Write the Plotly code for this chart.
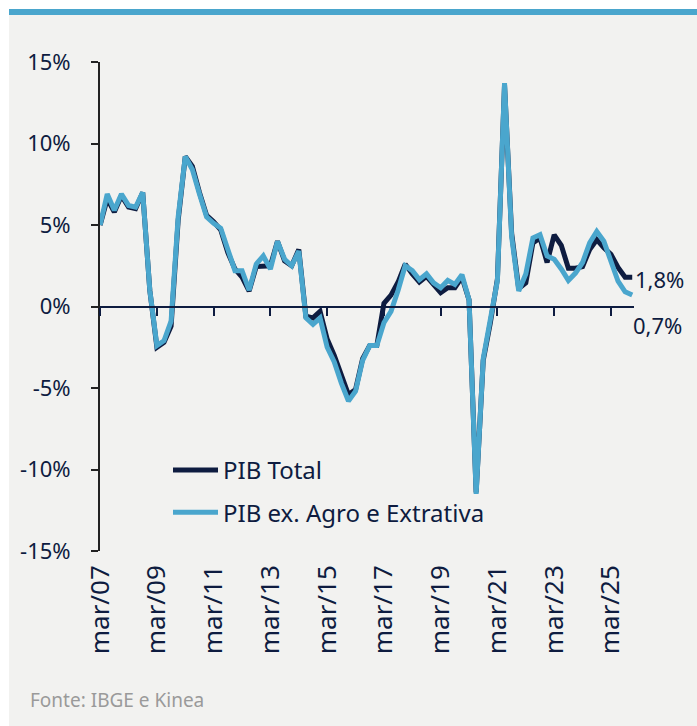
import plotly.graph_objects as go

# ---------------- data ----------------
months = ["mar", "jun", "set", "dez"]
quarters = [f"{m}/{y % 100:02d}" for y in range(2007, 2026) for m in months]

pib_total = [5.0, 6.6, 5.8, 6.8, 6.1, 6.0, 7.0, 1.0, -2.5, -2.2, -1.2, 5.3,
             9.2, 8.6, 7.0, 5.6, 5.2, 4.7, 3.3, 2.3, 1.8, 0.95, 2.45, 2.5,
             2.5, 4.0, 2.8, 2.5, 3.5, -0.6, -0.7, -0.3, -2.0, -3.0, -4.3, -5.4,
             -5.1, -3.2, -2.4, -2.4, 0.2, 0.7, 1.5, 2.6, 2.0, 1.5, 1.85, 1.3,
             0.85, 1.15, 1.15, 1.8, 0.4, -11.4, -3.3, -1.0, 1.7, 13.6, 4.5, 1.1,
             1.45, 3.9, 4.2, 2.7, 4.4, 3.75, 2.35, 2.35, 2.45, 3.5, 4.1, 3.6,
             3.2, 2.4, 1.8, 1.8]

pib_ex_agro = [5.0, 6.9, 5.9, 6.9, 6.2, 6.1, 7.0, 1.0, -2.4, -2.1, -0.9, 5.5,
               9.2, 8.4, 6.9, 5.5, 5.1, 4.8, 3.5, 2.2, 2.2, 1.0, 2.6, 3.1,
               2.3, 4.0, 2.9, 2.5, 3.4, -0.7, -1.1, -0.7, -2.5, -3.4, -4.7, -5.8,
               -5.2, -3.3, -2.4, -2.4, -1.0, -0.3, 1.0, 2.5, 2.2, 1.65, 2.0, 1.45,
               1.15, 1.6, 1.35, 1.95, 0.4, -11.5, -3.2, -0.9, 1.6, 13.7, 4.3, 0.95,
               2.0, 4.2, 4.4, 3.1, 2.9, 2.3, 1.6, 2.05, 2.7, 3.9, 4.6, 4.0,
               2.8, 1.55, 0.9, 0.7]

x_ticks = ["mar/07", "mar/09", "mar/11", "mar/13", "mar/15",
           "mar/17", "mar/19", "mar/21", "mar/23", "mar/25"]
y_ticks = [15, 10, 5, 0, -5, -10, -15]
y_tick_text = ["15%", "10%", "5%", "0%", "-5%", "-10%", "-15%"]

series_names = ["PIB Total", "PIB ex. Agro e Extrativa"]
end_labels = ["1,8%", "0,7%"]
source_text = "Fonte: IBGE e Kinea"

# ---------------- style ----------------
NAVY = "#0e1c40"
LIGHT = "#4aa6cd"
PANEL = "#f2f2f0"
FONT = "Noto Sans"

W, H = 697, 726
L, R, T, B = 100, 63, 62, 175
pw, ph = W - L - R, H - T - B


def px_x(p):
    return (p - L) / pw


def px_y(p):
    return (H - B - p) / ph


fig = go.Figure()

fig.add_trace(go.Scatter(
    x=quarters, y=pib_total, mode="lines", name=series_names[0],
    line=dict(color=NAVY, width=5), legendgroup="a"))
fig.add_trace(go.Scatter(
    x=quarters, y=pib_ex_agro, mode="lines", name=series_names[1],
    line=dict(color=LIGHT, width=5), legendgroup="b"))
# invisible trace to carry the zero-line axis
fig.add_trace(go.Scatter(
    x=quarters, y=pib_total, mode="lines", xaxis="x2", showlegend=False,
    line=dict(color="rgba(0,0,0,0)", width=0), hoverinfo="skip"))

fig.add_annotation(x=quarters[-1], y=pib_total[-1], text=end_labels[0],
                   showarrow=False, xanchor="left", yanchor="middle",
                   xshift=1, yshift=-2, font=dict(size=22, color=NAVY, family=FONT))
fig.add_annotation(x=quarters[-1], y=pib_ex_agro[-1], text=end_labels[1],
                   showarrow=False, xanchor="left", yanchor="middle",
                   xshift=-1, yshift=-30, font=dict(size=22, color=NAVY, family=FONT))

fig.add_annotation(x=px_x(28), y=px_y(700), xref="paper", yref="paper",
                   text=source_text, showarrow=False, xanchor="left",
                   yanchor="middle", font=dict(size=19, color="#9a9a9a", family=FONT))

# background panel and top bar
fig.add_shape(type="rect", xref="paper", yref="paper", layer="below",
              x0=px_x(9), x1=px_x(W + 2), y0=px_y(H + 2), y1=px_y(15),
              fillcolor=PANEL, line=dict(width=0))
fig.add_shape(type="rect", xref="paper", yref="paper", layer="below",
              x0=px_x(9), x1=px_x(W + 2), y0=px_y(15), y1=px_y(9),
              fillcolor=LIGHT, line=dict(width=0))

xrange = [-0.02, len(quarters) - 1 + 0.25]

fig.update_layout(
    width=W, height=H,
    margin=dict(l=L, r=R, t=T, b=B),
    paper_bgcolor="white",
    plot_bgcolor="rgba(0,0,0,0)",
    font=dict(family=FONT, color=NAVY, size=20),
    showlegend=True,
    hovermode=False,
    legend=dict(x=px_x(168), y=px_y(448), xanchor="left", yanchor="top",
                bgcolor="rgba(0,0,0,0)", font=dict(size=24, color=NAVY, family=FONT),
                tracegroupgap=8, itemwidth=45),
    xaxis=dict(type="category", range=xrange, tickmode="array", tickvals=x_ticks,
               ticktext=x_ticks, tickangle=-90, showgrid=False, showline=False,
               zeroline=False, ticks="", ticklabelstandoff=8,
               tickfont=dict(size=26, color=NAVY, family=FONT)),
    xaxis2=dict(type="category", range=xrange, matches="x", overlaying="x",
                anchor="free", position=0.5, side="bottom",
                tickmode="array", tickvals=x_ticks, showticklabels=False,
                showgrid=False, zeroline=False, showline=True,
                linecolor=NAVY, linewidth=2, ticks="outside", ticklen=8,
                tickwidth=2, tickcolor=NAVY),
    yaxis=dict(range=[-15, 15], tickmode="array", tickvals=y_ticks,
               ticktext=y_tick_text, showgrid=False, zeroline=False,
               showline=True, linecolor="#222222", linewidth=2,
               ticks="outside", ticklen=7, tickwidth=2, tickcolor="#222222",
               ticklabelstandoff=16,
               tickfont=dict(size=22, color=NAVY, family=FONT)),
)

fig.write_html("out.html", config={"displayModeBar": False},
               post_script="document.body.style.margin='0';")
